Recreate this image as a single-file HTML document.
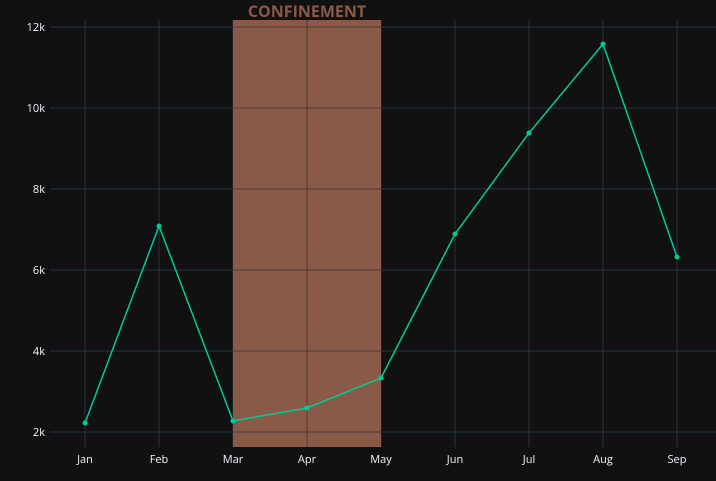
<!DOCTYPE html>
<html><head><meta charset="utf-8"><style>
html,body{margin:0;padding:0;background:#111111;}
svg{display:block;font-family:"Open Sans","Liberation Sans",sans-serif;}
</style></head><body>
<svg id="chart" width="716" height="481">
<rect x="0" y="0" width="716" height="481" fill="#111111"/>
<g id="grid"></g>
<g id="shade"></g>
<g id="grid2"></g>
<g id="series"></g>
<g id="axes"></g>
</svg>
<script>
const months = ["Jan","Feb","Mar","Apr","May","Jun","Jul","Aug","Sep"];
const values = [2222,7086,2272,2593,3333,6889,9383,11580,6321];
const yTicks = [2000,4000,6000,8000,10000,12000];
const yTickLabels = ["2k","4k","6k","8k","10k","12k"];
const shadeStart = "Mar";
const shadeEnd = "May";
const shadeLabel = "CONFINEMENT";

const NS="http://www.w3.org/2000/svg";
function x(m){return 85+months.indexOf(m)*74;}
function xi(i){return 85+i*74;}
function y(v){return 432-(v-2000)*405/10000;}
function mk(tag,attrs,parent){const e=document.createElementNS(NS,tag);for(const k in attrs)e.setAttribute(k,attrs[k]);parent.appendChild(e);return e;}
const grid=document.getElementById('grid'),grid2=document.getElementById('grid2'),shade=document.getElementById('shade'),series=document.getElementById('series'),axes=document.getElementById('axes');
const x0=x(shadeStart),x1=x(shadeEnd);
months.forEach((m,i)=>{
  const l=mk('line',{x1:xi(i),x2:xi(i),y1:20,y2:447,stroke:'#283442','stroke-width':1},grid);
  
  
  const t=mk('text',{x:xi(i),y:463,'text-anchor':'middle','font-size':11,fill:'#f2f5fa'},axes);
  t.textContent=m;
  
  
});
yTicks.forEach((v,i)=>{
  const l=mk('line',{x1:50,x2:716,y1:y(v),y2:y(v),stroke:'#283442','stroke-width':1},grid);
  
  
  const t=mk('text',{x:45,y:y(v)+4,'text-anchor':'end','font-size':11,fill:'#f2f5fa'},axes);
  t.textContent=yTickLabels[i];
  
  
});
const r=mk('rect',{x:x0,y:20,width:x1-x0,height:427,fill:'#8a5a48'},shade);


const lab=mk('text',{x:(x0+x1)/2,y:17,'text-anchor':'middle','font-size':16,'font-weight':'bold',fill:'#8a5a48'},shade);
lab.textContent=shadeLabel;


months.forEach((m,i)=>{
  if(xi(i)>x0&&xi(i)<x1){
    const l=mk('line',{x1:xi(i),x2:xi(i),y1:20,y2:447,stroke:'#4e3c36','stroke-width':1},grid2);
    
    
  }
});
yTicks.forEach(v=>{
  const l=mk('line',{x1:x0,x2:x1,y1:y(v),y2:y(v),stroke:'#4e3c36','stroke-width':1},grid2);
  
  
});
const pl=mk('polyline',{points:values.map((v,i)=>xi(i)+','+y(v)).join(' '),fill:'none',stroke:'#00cc96','stroke-width':1.5},series);


values.forEach((v,i)=>{
  const c=mk('circle',{cx:xi(i),cy:y(v),r:2.5,fill:'#00cc96'},series);
  
  
});
</script>
</body></html>
